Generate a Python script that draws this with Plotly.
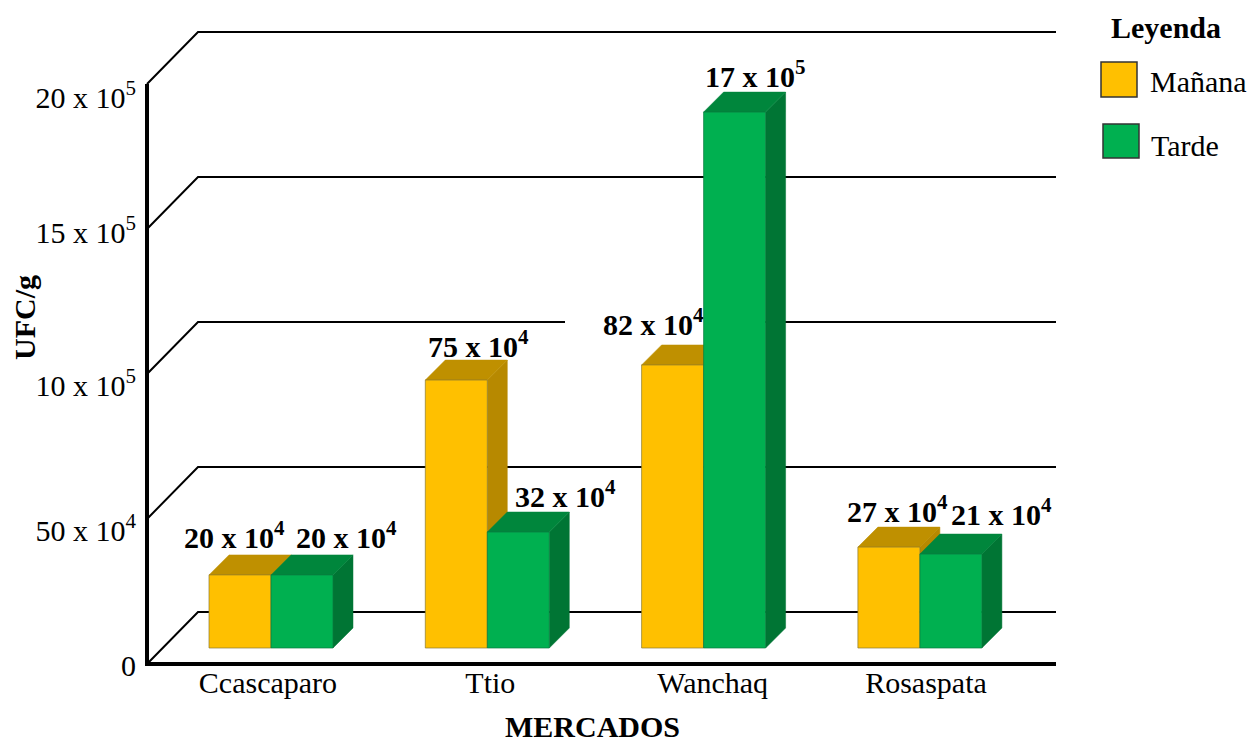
import plotly.graph_objects as go

# ---- data ----
categories = ["Ccascaparo", "Ttio", "Wanchaq", "Rosaspata"]
manana_values = [252000, 924000, 976000, 348000]
tarde_values = [252000, 400000, 1848000, 324000]
manana_labels = ["20 x 10<sup>4</sup>", "75 x 10<sup>4</sup>", "82 x 10<sup>4</sup>", "27 x 10<sup>4</sup>"]
tarde_labels = ["20 x 10<sup>4</sup>", "32 x 10<sup>4</sup>", "17 x 10<sup>5</sup>", "21 x 10<sup>4</sup>"]
y_ticks = [0, 500000, 1000000, 1500000, 2000000]
y_ticktext = ["0", "50 x 10<sup>4</sup>", "10 x 10<sup>5</sup>", "15 x 10<sup>5</sup>", "20 x 10<sup>5</sup>"]

# ---- styling / geometry (pixels converted to axis units) ----
PX_X = 216.3                 # px per category
PX_Y = 145 / 500000          # px per UFC
X0, Y0 = 271, 664            # pixel of x=0, y=0
PL, PR, PT, PB = 145, 1058, 30, 666   # plot area, slightly larger than the drawing
END_L, END_R = 147, 1056
FONT = "Liberation Serif"
SIZE = 30
YEL, YEL_TOP, YEL_SIDE = "#FFC000", "#BF9000", "#B78900"
GRN, GRN_TOP, GRN_SIDE = "#00B050", "#00863C", "#007534"
bar_w = 62 / PX_X
deep_x, deep_y = 20 / PX_X, 20 / PX_Y
floor_x, floor_y = 51 / PX_X, 52 / PX_Y
base = 16 / PX_Y
xmin, xmax = (END_L - X0) / PX_X, (END_R - X0) / PX_X

fig = go.Figure()


def line(xs, ys, width, color="black"):
    fig.add_trace(go.Scatter(x=xs, y=ys, mode="lines", line=dict(color=color, width=width),
                             hoverinfo="skip", showlegend=False))


def poly(xs, ys, fill, name):
    fig.add_trace(go.Scatter(x=xs + xs[:1], y=ys + ys[:1], mode="lines", fill="toself",
                             fillcolor=fill, line=dict(color=fill, width=0.5),
                             name=name, showlegend=False))


# back wall and floor lines
for v in y_ticks:
    line([xmin, xmin + floor_x, xmax], [v, v + floor_y, v + floor_y], 2)
# the 10 x 10^5 back line is interrupted behind the "82 x 10^4" label
gap_level = y_ticks[2] + floor_y
line([(565 - X0) / PX_X, (710 - X0) / PX_X], [gap_level, gap_level], 4, "white")
# main axis lines
line([xmin, xmin], [0, y_ticks[-1]], 4)
line([xmin - 2 / PX_X, xmax], [0, 0], 4)


def bar(x0, value, front, top, side, name):
    x1 = x0 + bar_w
    yb = base
    yt = base + value
    poly([x1, x1 + deep_x, x1 + deep_x, x1], [yb, yb + deep_y, yt + deep_y, yt], side, name)
    poly([x0, x1, x1 + deep_x, x0 + deep_x], [yt, yt, yt + deep_y, yt + deep_y], top, name)
    fig.add_trace(go.Scatter(x=[x0, x1, x1, x0, x0], y=[yb, yb, yt, yt, yb], mode="lines", fill="toself",
                             fillcolor=front, line=dict(color="#8a7a30" if front == YEL else "#0a7a40", width=0.7),
                             name=name, showlegend=False))


for i in range(len(categories)):
    bar(i - bar_w, manana_values[i], YEL, YEL_TOP, YEL_SIDE, "Mañana")
    bar(i, tarde_values[i], GRN, GRN_TOP, GRN_SIDE, "Tarde")

# value labels: anchored on the top of each bar, nudged in pixels
manana_shift = [(-16, 20), (12, 16), (-29, 23), (-1, 18)]
tarde_shift = [(34, 20), (37, 18), (11, 18), (41, 22)]
annotations = []
for i in range(len(categories)):
    for x0, vals, labs, shifts in ((i - bar_w, manana_values, manana_labels, manana_shift),
                                   (i, tarde_values, tarde_labels, tarde_shift)):
        annotations.append(dict(
            x=x0 + bar_w / 2 + deep_x / 2, y=base + vals[i] + deep_y, xref="x", yref="y",
            text=f"<b>{labs[i]}</b>", showarrow=False, xshift=shifts[i][0], yshift=shifts[i][1],
            font=dict(family=FONT, size=SIZE, color="black"),
        ))


def px_ann(px, py, text, bold=False, anchor="center", angle=0):
    annotations.append(dict(
        x=(px - PL) / (PR - PL), y=(PB - py) / (PB - PT), xref="paper", yref="paper",
        text=f"<b>{text}</b>" if bold else text, showarrow=False, xanchor=anchor, yanchor="middle",
        textangle=angle, font=dict(family=FONT, size=SIZE, color="black")))


px_ann(24, 317, "UFC/g", bold=True, angle=-90)
px_ann(592, 726, "MERCADOS", bold=True)
px_ann(1166, 28, "Leyenda", bold=True)
px_ann(1148, 81, "Mañana", anchor="left")
px_ann(1149, 146, "Tarde", anchor="left")


def swatch(x0, x1, y0, y1, color):
    return dict(type="rect", xref="paper", yref="paper",
                x0=(x0 - PL) / (PR - PL), x1=(x1 - PL) / (PR - PL),
                y0=(PB - y1) / (PB - PT), y1=(PB - y0) / (PB - PT),
                fillcolor=color, line=dict(color="#333333", width=1.5))


# tick labels sit a little below their nominal level in the reference
ytick_nudge_px = [-1, -11, -11, -3, -13]
xtick_nudge = [-0.014, 0.014, 0.042, 0.028]

fig.update_layout(
    width=1248, height=743, margin=dict(l=PL, r=1248 - PR, t=PT, b=743 - PB),
    paper_bgcolor="white", plot_bgcolor="white", showlegend=False,
    font=dict(family=FONT, color="black"),
    xaxis=dict(range=[(PL - X0) / PX_X, (PR - X0) / PX_X], showgrid=False, zeroline=False, showline=False,
               tickvals=[i + n for i, n in enumerate(xtick_nudge)], ticktext=categories,
               tickfont=dict(family=FONT, size=SIZE), ticks="", ticklabelstandoff=-4),
    yaxis=dict(range=[(Y0 - PB) / PX_Y, (Y0 - PT) / PX_Y], showgrid=False, zeroline=False, showline=False,
               tickvals=[v + n / PX_Y for v, n in zip(y_ticks, ytick_nudge_px)], ticktext=y_ticktext,
               tickfont=dict(family=FONT, size=SIZE), ticks="outside", ticklen=2, tickcolor="white"),
    annotations=annotations,
    shapes=[swatch(1101, 1137, 62, 97, YEL), swatch(1103, 1139, 124, 158, GRN)],
)

fig.write_html("out.html", config={"displayModeBar": False},
               post_script="document.body.style.margin='0';")
